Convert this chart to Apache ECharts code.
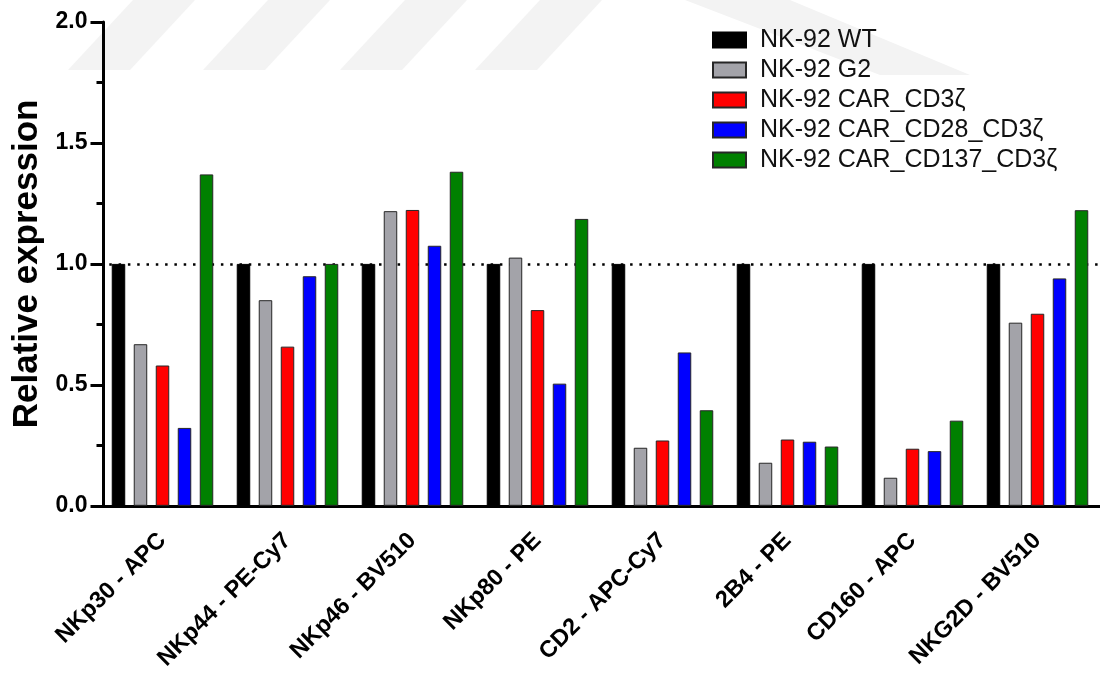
<!DOCTYPE html>
<html>
<head>
<meta charset="utf-8">
<title>Relative expression of NK receptors</title>
<script src="https://cdn.jsdelivr.net/npm/echarts@6/dist/echarts.min.js"></script>
<style>
  html, body { margin: 0; padding: 0; background: #fff; }
  #chart { width: 1100px; height: 673px; }
</style>
</head>
<body>
<div id="chart"></div>
<script>
// Receptor / fluorochrome panels on the x axis
const categories = ['NKp30 - APC', 'NKp44 - PE-Cy7', 'NKp46 - BV510', 'NKp80 - PE',
                    'CD2 - APC-Cy7', '2B4 - PE', 'CD160 - APC', 'NKG2D - BV510'];

// Relative expression per cell line (normalised to NK-92 WT)
const wtValues    = [1.00, 1.00, 1.00, 1.00, 1.00, 1.00, 1.00, 1.00];
const g2Values    = [0.668, 0.85, 1.218, 1.026, 0.24, 0.178, 0.116, 0.757];
const cd3zValues  = [0.58, 0.658, 1.223, 0.809, 0.27, 0.274, 0.236, 0.794];
const cd28Values  = [0.322, 0.949, 1.075, 0.505, 0.634, 0.265, 0.226, 0.94];
const cd137Values = [1.37, 1.00, 1.381, 1.186, 0.395, 0.245, 0.352, 1.222];

const seriesNames = ['NK-92 WT', 'NK-92 G2', 'NK-92 CAR_CD3ζ', 'NK-92 CAR_CD28_CD3ζ', 'NK-92 CAR_CD137_CD3ζ'];
const seriesValues = [wtValues, g2Values, cd3zValues, cd28Values, cd137Values];
const seriesColors = ['#000000', '#a3a3a9', '#ff0000', '#0000ff', '#008000'];

// Y axis tick values
const yTicks = [0.0, 0.5, 1.0, 1.5, 2.0];

const FONT = '"Liberation Sans", Arial, Helvetica, sans-serif';

// faint diagonal stripes in the page background
function stripe(points) {
  return { type: 'polygon', z: -10, silent: true,
           shape: { points: points }, style: { fill: '#f3f3f3' } };
}
const bgStripes = [68, 203, 340, 475].map(x0 =>
  stripe([[x0, 70], [x0 + 62, 70], [x0 + 127, 0], [x0 + 65, 0]]));
bgStripes.push(stripe([[685, 0], [790, 0], [970, 75], [880, 75]]));

const series = seriesNames.map((name, i) => {
  const s = {
    name: name,
    type: 'bar',
    data: seriesValues[i],
    barWidth: 13.5,
    barGap: '63%',
    itemStyle: {
      color: seriesColors[i],
      borderColor: i === 0 ? '#000' : '#262626',
      borderWidth: 1
    },
    emphasis: { disabled: true }
  };
  if (i === 0) {
    // dotted reference line at relative expression = 1
    s.markLine = {
      silent: true,
      z: 1,
      symbol: ['none', 'none'],
      label: { show: false },
      lineStyle: { color: '#000', type: [2.5, 6.8], width: 2.5 },
      data: [{ yAxis: 1 }]
    };
  }
  return s;
});

const chart = echarts.init(document.getElementById('chart'), null, { renderer: 'canvas' });
chart.setOption({
  animation: false,
  backgroundColor: '#fff',
  graphic: bgStripes,
  grid: { left: 100, right: -4, top: 22, bottom: 164.5, containLabel: false },
  legend: {
    data: seriesNames,
    orient: 'vertical',
    left: 707,
    top: 20,
    icon: 'rect',
    itemWidth: 33,
    itemHeight: 15,
    itemGap: 0,
    selectedMode: false,
    textStyle: {
      fontFamily: FONT,
      fontSize: 25,
      color: '#111',
      lineHeight: 30,
      padding: [0, 0, 0, 9]
    }
  },
  xAxis: {
    type: 'category',
    data: categories,
    axisLine: { lineStyle: { color: '#000', width: 3 } },
    axisTick: { alignWithLabel: true, length: 12, lineStyle: { color: '#000', width: 3 } },
    axisLabel: {
      interval: 0,
      rotate: 45,
      margin: 31,
      fontFamily: FONT,
      fontWeight: 'bold',
      fontSize: 23.5,
      color: '#000'
    },
    splitLine: { show: false }
  },
  yAxis: {
    type: 'value',
    min: yTicks[0],
    max: yTicks[yTicks.length - 1],
    interval: yTicks[1] - yTicks[0],
    offset: -3.5,
    name: 'Relative expression',
    nameLocation: 'middle',
    nameGap: 56,
    nameTextStyle: {
      fontFamily: FONT,
      fontWeight: 'bold',
      fontSize: 35,
      color: '#000'
    },
    axisLine: { show: true, lineStyle: { color: '#000', width: 3 } },
    axisTick: { show: true, length: 13, lineStyle: { color: '#000', width: 3 } },
    minorTick: { show: true, splitNumber: 2, length: 7, lineStyle: { color: '#000', width: 3 } },
    axisLabel: {
      margin: 16,
      fontFamily: FONT,
      fontWeight: 'bold',
      fontSize: 23,
      color: '#000',
      formatter: v => v.toFixed(1)
    },
    splitLine: { show: false }
  },
  series: series
});
</script>
</body>
</html>
